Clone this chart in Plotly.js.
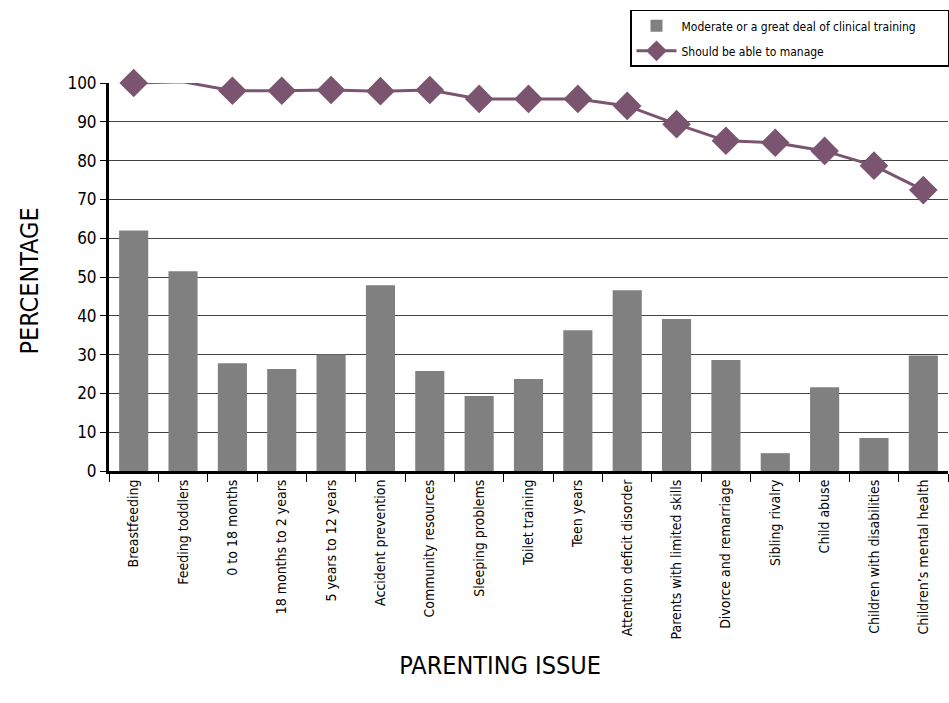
<!DOCTYPE html>
<html>
<head>
<meta charset="utf-8">
<script src="https://cdn.plot.ly/plotly-3.0.1.min.js"></script>
<style>html,body{margin:0;padding:0;background:#fff;}#chart{width:949px;height:703px;}
#chart text{font-stretch:condensed;}</style>
</head>
<body>
<div id="chart"></div>
<script>
const categories = ["Breastfeeding","Feeding toddlers","0 to 18 months","18 months to 2 years","5 years to 12 years","Accident prevention","Community resources","Sleeping problems","Toilet training","Teen years","Attention deficit disorder","Parents with limited skills","Divorce and remarriage","Sibling rivalry","Child abuse","Children with disabilities","Children\u2019s mental health"];
const trainingValues = [62, 51.5, 27.8, 26.3, 30, 47.9, 25.8, 19.3, 23.7, 36.3, 46.6, 39.2, 28.6, 4.6, 21.6, 8.5, 29.8];
const manageValues = [100, 100.3, 98, 98, 98.2, 97.9, 98.2, 95.9, 95.9, 95.9, 94.1, 89.4, 85.1, 84.6, 82.5, 78.7, 72.4];
const yTicks = [0,10,20,30,40,50,60,70,80,90,100];

const FONT = '"DejaVu Sans", sans-serif';

const traces = [
  {type:'bar', x:categories, y:trainingValues, name:'Moderate or a great deal of clinical training',
   marker:{color:'#808080'}, legendgroup:'a'},
  {type:'scatter', mode:'lines+markers', x:categories, y:manageValues, name:'Should be able to manage',
   line:{color:'#7b5570', width:3}, marker:{symbol:'diamond', size:22, color:'#7b5570'}, cliponaxis:false,
   legendgroup:'b'}
];

const layout = {
  width:949, height:703,
  margin:{l:109, r:1, t:83, b:232, autoexpand:false},
  paper_bgcolor:'#fff', plot_bgcolor:'#fff',
  font:{family:FONT, color:'#000'},
  bargap:0.41,
  showlegend:true,
  legend:{xref:'container', yref:'container', x:1, y:0.986, xanchor:'right', yanchor:'top',
          bordercolor:'#000', borderwidth:1.5, bgcolor:'#fff', font:{size:12, family:FONT},
          itemwidth:40, tracegroupgap:6},
  xaxis:{type:'category', tickson:'boundaries', ticks:'outside', ticklen:8, tickcolor:'#000',
         tickangle:-90, tickfont:{size:14, family:FONT},
         showline:true, linecolor:'#000', linewidth:3, showgrid:false,
         range:[-0.5, 16.5]},
  yaxis:{range:[0,100], tickvals:yTicks, ticks:'outside', ticklen:6, tickcolor:'#000',
         tickfont:{size:17, family:FONT}, showline:true, linecolor:'#000', linewidth:3,
         showgrid:true, gridcolor:'#444', gridwidth:1, zeroline:false},
  annotations:[
    {text:'PARENTING ISSUE', xref:'paper', yref:'paper', x:0.466, y:-0.5, xanchor:'center', yanchor:'middle',
     showarrow:false, font:{size:25, family:FONT}},
    {text:'PERCENTAGE', xref:'paper', yref:'paper', x:-0.094, y:0.49, xanchor:'center', yanchor:'middle',
     textangle:-90, showarrow:false, font:{size:25, family:FONT}}
  ]
};

Plotly.newPlot('chart', traces, layout, {displayModeBar:false, staticPlot:true});
</script>
</body>
</html>
